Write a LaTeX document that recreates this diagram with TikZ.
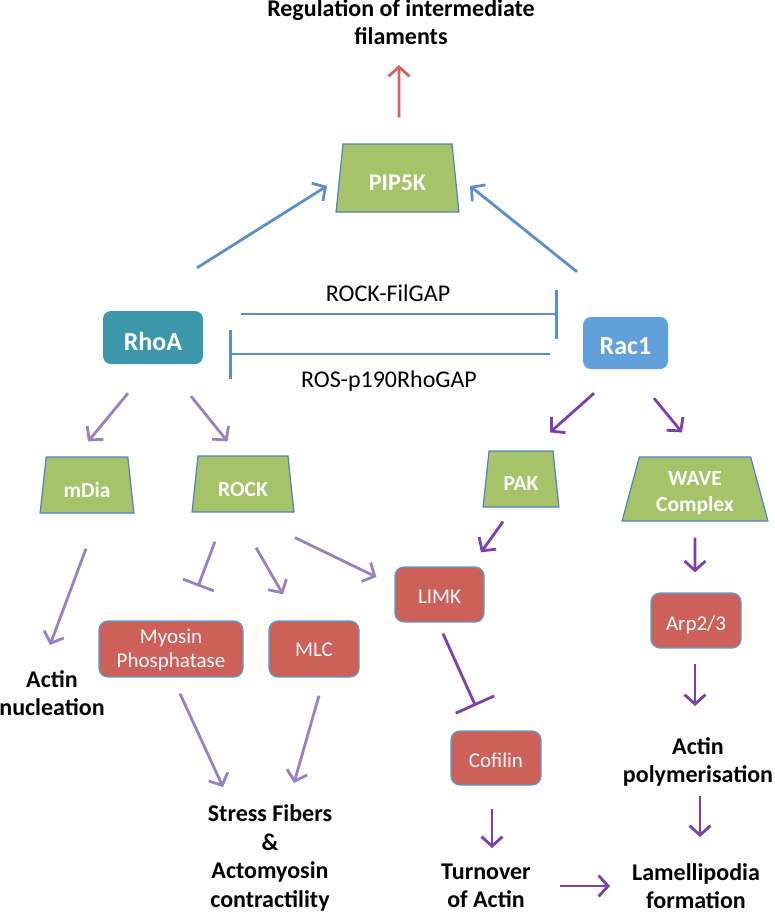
\documentclass[tikz,border=0pt]{standalone}
\usepackage{fontspec}
\setmainfont{Carlito}
\usetikzlibrary{shapes.geometric,arrows.meta,calc}
\definecolor{grn}{HTML}{A6C36A}
\definecolor{trapb}{HTML}{4F81BD}
\definecolor{redbox}{HTML}{CD6159}
\definecolor{boxb}{HTML}{5B9BD5}
\definecolor{rhoac}{HTML}{3C97AB}
\definecolor{racc}{HTML}{62A0DC}
\definecolor{bluear}{HTML}{5A8FCB}
\definecolor{lpur}{HTML}{9B80BF}
\definecolor{dpur}{HTML}{7F3FAA}
\definecolor{redar}{HTML}{D2645E}
\newcommand\lowtxt[2]{\raisebox{-#1}[\height][\depth]{#2}}
\begin{document}
\begin{tikzpicture}[x=1pt,y=-1pt,
  trap/.style={trapezium, trapezium stretches=true, trapezium left angle=77, trapezium right angle=77, fill=grn, draw=trapb, line width=1.2pt, text=white, font=\fontsize{21.5}{26}\selectfont\bfseries, inner sep=0pt},
  gtp/.style={rectangle, rounded corners=8pt, draw=none, text=white, font=\fontsize{26}{30}\selectfont\bfseries, inner sep=0pt},
  rbox/.style={rectangle, rounded corners=9pt, fill=redbox, draw=boxb, line width=1.3pt, text=white, font=\fontsize{21}{24}\selectfont, align=center, inner sep=0pt},
  lbl/.style={font=\fontsize{24}{28}\selectfont\bfseries, align=center, inner sep=0pt},
  gaplbl/.style={font=\fontsize{24}{28}\selectfont, inner sep=0pt},
  ar/.style={line width=2.8pt, -{Straight Barb[length=9.5pt,width=21pt]}},
  inh/.style={line width=2.8pt, -{Bar[width=#1]}},
]
\useasboundingbox (0,0) rectangle (774,913);

% nodes
\node[trap, minimum width=123pt, minimum height=68pt, font=\fontsize{24}{28}\selectfont\bfseries] (pip) at (397.5,178) {\lowtxt{5pt}{PIP5K}};
\node[trap, minimum width=94pt, minimum height=56pt] (mdia) at (87,485) {\lowtxt{5pt}{mDia}};
\node[trap, minimum width=102pt, minimum height=56pt] (rock) at (243,484) {\lowtxt{6pt}{ROCK}};
\node[trap, minimum width=76pt, minimum height=56pt] (pak) at (521,479) {\lowtxt{5pt}{PAK}};
\node[trap, minimum width=146pt, minimum height=64pt] (wave) at (695,489) {\lowtxt{4pt}{\begin{tabular}{@{}c@{}}WAVE\\Complex\end{tabular}}};

\node[gtp, fill=rhoac, minimum width=100pt, minimum height=53pt] (rhoa) at (153,337.5) {\lowtxt{4pt}{RhoA}};
\node[gtp, fill=racc, minimum width=85pt, minimum height=52pt] (rac) at (625.5,343) {\lowtxt{3pt}{Rac1}};

\node[rbox, minimum width=89pt, minimum height=55pt] (limk) at (439.5,594.5) {\lowtxt{2pt}{LIMK}};
\node[rbox, minimum width=144pt, minimum height=56pt] (myo) at (171,649) {\lowtxt{2pt}{\begin{tabular}{@{}c@{}}Myosin\\Phosphatase\end{tabular}}};
\node[rbox, minimum width=90pt, minimum height=56pt] (mlc) at (314,649) {\lowtxt{1pt}{MLC}};
\node[rbox, minimum width=90pt, minimum height=55pt] (arp) at (696,620.5) {\lowtxt{4pt}{Arp2/3}};
\node[rbox, minimum width=90pt, minimum height=54pt] (cof) at (496,758) {\lowtxt{2pt}{Cofilin}};

\node[lbl] (title) at (401,22.5) {Regulation of intermediate\\filaments};
\node[gaplbl] (fil) at (388,293) {ROCK-FilGAP};
\node[gaplbl] (ros) at (389,381) {ROS-p190RhoGAP};
\node[lbl] (nucl) at (52,693.5) {Actin\\nucleation};
\node[lbl, font=\fontsize{24}{28.7}\selectfont\bfseries] (stress) at (270,858) {Stress Fibers\\\&\\Actomyosin\\contractility};
\node[lbl] (turn) at (486,886) {Turnover\\of Actin};
\node[lbl] (poly) at (698,762) {Actin\\polymerisation};
\node[lbl] (lam) at (696,886) {Lamellipodia\\formation};

% blue connectors
\draw[ar, bluear] ($(rhoa.north)+(44,-43)$) -- ($(pip.center)+(-70.5,8)$);
\draw[ar, bluear] ($(rac.north)+(-48.5,-45)$) -- ($(pip.center)+(72.5,8)$);
\draw[inh=49pt, bluear] ($(rhoa.east)+(38,-23.5)$) -- ($(rac.west)+(-25,-29)$);
\draw[inh=49pt, bluear] ($(rac.west)+(-33,11)$) -- ($(rhoa.east)+(26,16.5)$);
% red connector
\draw[ar, redar] ($(pip.north)+(1.5,-26)$) -- ($(title.center)+(-2,42.5)$);

% light purple connectors
\draw[ar, lpur] ($(rhoa.south)+(-25,29)$) -- ($(mdia.north)+(1,-15)$);
\draw[ar, lpur] ($(rhoa.south)+(38,32)$) -- ($(rock.north)+(-15.5,-14)$);
\draw[ar, lpur] ($(mdia.south)+(-1,35)$) -- ($(nucl.center)+(-2,-48.5)$);
\draw[inh=33pt, lpur] ($(rock.south)+(-28,29)$) -- ($(myo.north)+(27,-34)$);
\draw[ar, lpur] ($(rock.south)+(13,35)$) -- ($(mlc.north)+(-31,-26)$);
\draw[ar, lpur] ($(rock.south)+(52,25)$) -- ($(limk.west)+(-18,-17.5)$);
\draw[ar, lpur] ($(myo.south)+(9,16)$) -- ($(stress.center)+(-47,-71)$);
\draw[ar, lpur] ($(mlc.south)+(5,18)$) -- ($(stress.center)+(24,-75)$);

% dark purple connectors
\draw[ar, dpur] ($(rac.south)+(-31.5,24)$) -- ($(pak.north)+(29,-18)$);
\draw[ar, dpur] ($(rac.south)+(28.5,29)$) -- ($(wave.north)+(-13,-24)$);
\draw[ar, dpur] ($(pak.south)+(-18,14)$) -- ($(limk.north)+(41.5,-14)$);
\draw[inh=42pt, dpur] ($(limk.south)+(3.5,11)$) -- ($(cof.north)+(-20.5,-24.5)$);
\draw[ar, dpur] ($(cof.south)+(-4,23)$) -- ($(turn.center)+(6,-38)$);
\draw[ar, dpur] ($(wave.south)+(0,16)$) -- ($(arp.north)+(-1,-20)$);
\draw[ar, dpur] ($(arp.south)+(-1,15)$) -- ($(poly.center)+(-3,-56)$);
\draw[ar, dpur] ($(poly.center)+(2,34)$) -- ($(lam.center)+(4,-49)$);
\draw[ar, dpur] ($(turn.center)+(74,0)$) -- ($(lam.center)+(-86,0)$);
\end{tikzpicture}
\end{document}
